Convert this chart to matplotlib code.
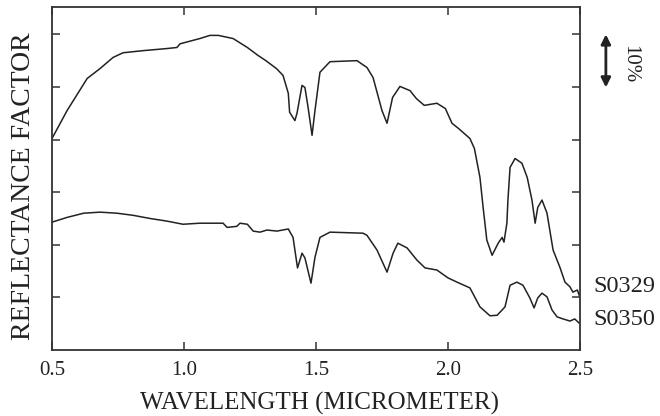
import matplotlib.pyplot as plt

# wavelength (micrometer) and offset reflectance (arbitrary units, 10 = 10%)
wl_s0329 = [0.50, 0.557, 0.633, 0.682, 0.731, 0.769, 0.845, 0.935, 0.973, 0.985,
            1.06, 1.098, 1.13, 1.186, 1.24, 1.28, 1.31, 1.35, 1.375, 1.395,
            1.40, 1.42, 1.428, 1.447, 1.458, 1.47, 1.485, 1.496, 1.515, 1.553,
            1.655, 1.693, 1.716, 1.75, 1.769, 1.79, 1.818, 1.856, 1.88, 1.91,
            1.958, 1.99, 2.015, 2.04, 2.083, 2.10, 2.121, 2.133, 2.147, 2.167,
            2.19, 2.205, 2.212, 2.223, 2.227, 2.235, 2.254, 2.28, 2.30, 2.318,
            2.33, 2.34, 2.356, 2.375, 2.398, 2.424, 2.443, 2.462, 2.473, 2.49,
            2.497]
r_s0329 = [40.2, 45.5, 51.6, 53.5, 55.6, 56.5, 56.9, 57.3, 57.5, 58.2,
           59.2, 59.8, 59.8, 59.2, 57.5, 56.0, 55.0, 53.5, 52.2, 48.8,
           45.2, 43.6, 45.0, 50.3, 49.9, 46.1, 40.8, 45.5, 52.8, 54.8,
           55.0, 53.7, 51.8, 45.5, 43.1, 48.0, 50.1, 49.3, 47.8, 46.5,
           46.9, 45.9, 43.1, 42.1, 40.2, 38.3, 32.8, 27.1, 20.9, 18.0,
           20.3, 21.4, 20.5, 24.1, 28.5, 34.7, 36.4, 35.5, 32.8, 28.5,
           24.1, 27.1, 28.5, 26.0, 19.0, 15.7, 12.9, 12.0, 11.0, 11.4,
           10.4]

wl_s0350 = [0.50, 0.557, 0.62, 0.682, 0.746, 0.807, 0.871, 0.935, 0.996, 1.06,
            1.11, 1.148, 1.163, 1.20, 1.212, 1.24, 1.262, 1.288, 1.314, 1.352,
            1.395, 1.413, 1.43, 1.447, 1.458, 1.481, 1.496, 1.515, 1.553, 1.678,
            1.693, 1.731, 1.769, 1.792, 1.81, 1.845, 1.882, 1.913, 1.958, 2.0,
            2.034, 2.083, 2.121, 2.159, 2.186, 2.205, 2.216, 2.235, 2.261, 2.284,
            2.31, 2.326, 2.34, 2.356, 2.375, 2.394, 2.413, 2.436, 2.462, 2.48,
            2.497]
r_s0350 = [24.3, 25.2, 26.0, 26.2, 26.0, 25.6, 25.0, 24.5, 23.9, 24.1,
           24.1, 24.1, 23.3, 23.5, 24.1, 23.9, 22.6, 22.4, 22.8, 22.6,
           23.0, 21.4, 15.6, 18.4, 17.5, 12.7, 17.6, 21.4, 22.4, 22.2,
           21.8, 19.0, 14.8, 18.4, 20.3, 19.4, 17.1, 15.6, 15.2, 13.7,
           12.9, 11.8, 8.2, 6.5, 6.6, 7.6, 8.2, 12.3, 12.9, 12.3,
           9.9, 8.0, 9.9, 10.8, 10.1, 7.6, 6.3, 5.9, 5.5, 5.9,
           5.1]

x_ticks = [0.5, 1.0, 1.5, 2.0, 2.5]
x_ticklabels = ["0.5", "1.0", "1.5", "2.0", "2.5"]
y_ticks = [10, 20, 30, 40, 50, 60]

plt.rcParams['font.family'] = ['Liberation Serif', 'DejaVu Serif']
ink = '#222222'

fig = plt.figure(figsize=(6.6, 4.16), dpi=100)
ax = fig.add_axes([0.0788, 0.1587, 0.80, 0.8245])

ax.plot(wl_s0329, r_s0329, color=ink, lw=1.1)
ax.plot(wl_s0350, r_s0350, color=ink, lw=1.1)

ax.set_xlim(0.5, 2.5)
ax.set_ylim(0, 65.2)
ax.set_xticks(x_ticks)
ax.set_xticklabels(x_ticklabels, fontsize=15)
ax.set_yticks(y_ticks)
ax.set_yticklabels([])
ax.tick_params(direction='in', top=True, right=True, length=6, width=1.1,
               color='#333333', pad=8, labelcolor=ink)
for sp in ax.spines.values():
    sp.set_linewidth(1.3)
    sp.set_color('#333333')

ax.set_xlabel("WAVELENGTH (MICROMETER)", fontsize=18, color=ink)
ax.xaxis.set_label_coords(0.507, -0.122)
ax.set_ylabel("REFLECTANCE FACTOR", fontsize=20, color=ink)
ax.yaxis.set_label_coords(-0.03, 0.478)

# curve names at the right edge
ytr = ax.get_yaxis_transform()
ax.text(1.025, 12.1, "S0329", transform=ytr, fontsize=17.5,
        va='center', ha='left', color=ink)
ax.text(1.025, 5.8, "S0350", transform=ytr, fontsize=17.5,
        va='center', ha='left', color=ink)

# 10% scale bar
ax.annotate("", xy=(1.049, 49.9), xytext=(1.049, 60.0),
            xycoords=ytr, textcoords=ytr,
            arrowprops=dict(arrowstyle='<|-|>', lw=2, color=ink,
                            mutation_scale=14, shrinkA=0, shrinkB=0))
ax.text(1.095, 54.3, "10%", transform=ytr, fontsize=15,
        rotation=-90, va='center', ha='center', color=ink)

fig.savefig("out.png", dpi=100)
